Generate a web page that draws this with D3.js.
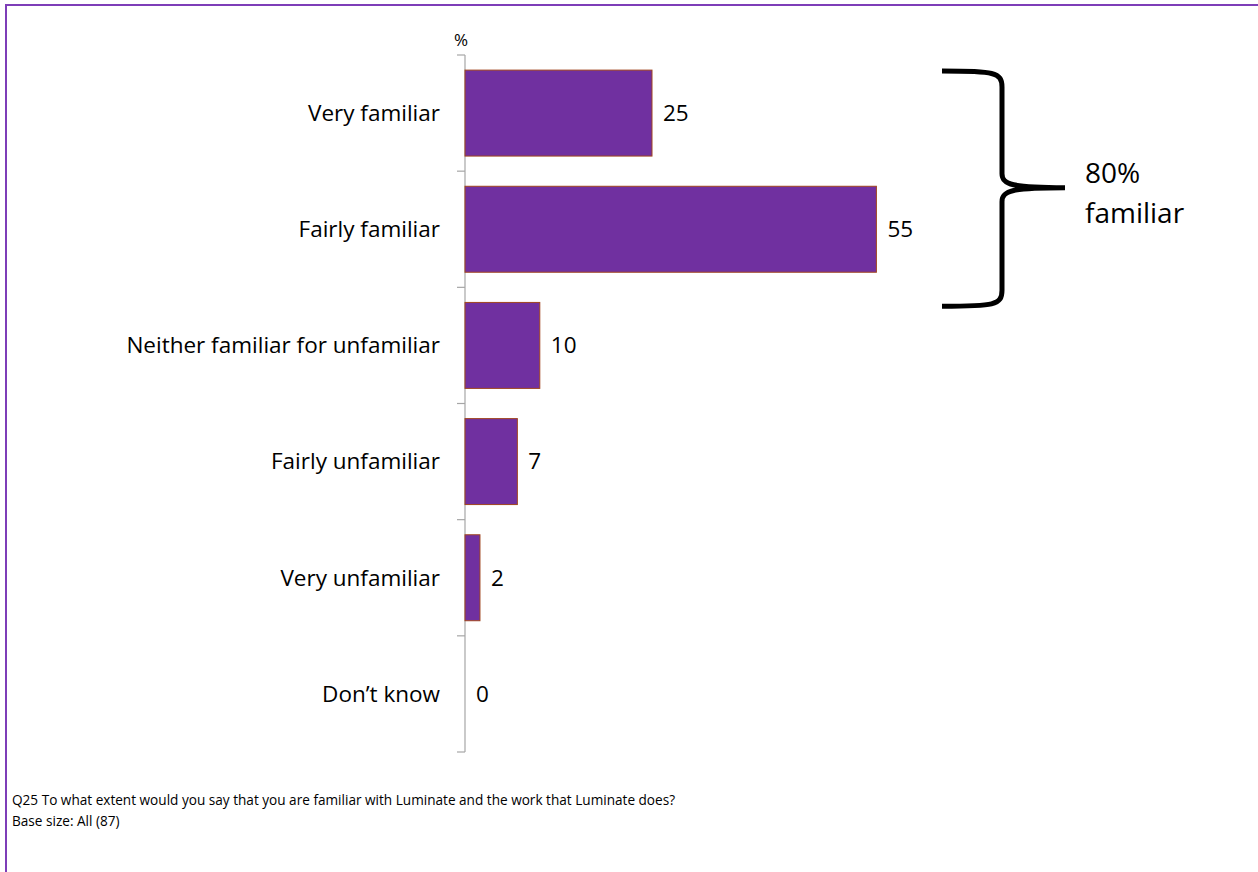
<!DOCTYPE html>
<html>
<head>
<meta charset="utf-8">
<script src="https://cdn.jsdelivr.net/npm/d3@7"></script>
<style>
  html, body { margin: 0; padding: 0; background: #fff; }
  svg { display: block; }
  text { font-family: "Open Sans", "Noto Sans", sans-serif; fill: #000; }
</style>
</head>
<body>
<svg id="chart" width="1258" height="872"></svg>
<script>
// Familiarity with Luminate, % of respondents
const categories = [
  "Very familiar",
  "Fairly familiar",
  "Neither familiar for unfamiliar",
  "Fairly unfamiliar",
  "Very unfamiliar",
  "Don\u2019t know"
];
const values = [25, 55, 10, 7, 2, 0];
const bracedCount = 2;          // first two categories are summed in the brace note
const braceLabel = ["80%", "familiar"];
const footnotes = [
  "Q25 To what extent would you say that you are familiar with Luminate and the work that Luminate does?",
  "Base size: All (87)"
];

const svg = d3.select("#chart");

// outer frame
svg.append("rect")
  .attr("x", 6).attr("y", 5)
  .attr("width", 1300).attr("height", 900)
  .attr("fill", "none")
  .attr("stroke", "#7E3EB8")
  .attr("stroke-width", 2);

const axisX = 465, plotTop = 55, plotBottom = 752;

const x = d3.scaleLinear().domain([0, 100]).range([axisX, axisX + 748]);
const pad = 0.26;
const y = d3.scaleBand().domain(categories).range([plotTop, plotBottom])
  .paddingInner(pad).paddingOuter(pad / 2);

// vertical axis with tick marks at the category boundaries
const g = svg.append("g");
g.append("line")
  .attr("x1", axisX).attr("x2", axisX)
  .attr("y1", plotTop).attr("y2", plotBottom)
  .attr("stroke", "#A6A6A6").attr("stroke-width", 1.2);

const step = y.step();
const bounds = d3.range(categories.length + 1).map(i => plotTop + i * step);
g.selectAll(".tick").data(bounds).join("line")
  .attr("x1", axisX - 8).attr("x2", axisX)
  .attr("y1", d => d).attr("y2", d => d)
  .attr("stroke", "#A6A6A6").attr("stroke-width", 1.2);

// bars
svg.selectAll(".bar").data(values).join("rect")
  .attr("x", x(0))
  .attr("y", (d, i) => y(categories[i]))
  .attr("width", d => x(d) - x(0))
  .attr("height", y.bandwidth())
  .attr("fill", "#7030A0")
  .attr("stroke", d => d > 0 ? "#A0441E" : "none")
  .attr("stroke-width", 1);

// value labels
svg.selectAll(".val").data(values).join("text")
  .attr("x", d => x(d) + 11)
  .attr("y", (d, i) => y(categories[i]) + y.bandwidth() / 2)
  .attr("dy", "0.35em")
  .attr("font-size", 22.5)
  .text(d => d);

// category labels
svg.selectAll(".cat").data(categories).join("text")
  .attr("x", 440)
  .attr("y", d => y(d) + y.bandwidth() / 2)
  .attr("dy", "0.35em")
  .attr("text-anchor", "end")
  .attr("font-size", 22.5)
  .text(d => d);

// axis unit
svg.append("text")
  .attr("x", 461).attr("y", 46)
  .attr("text-anchor", "middle")
  .attr("font-size", 17)
  .text("%");

// brace grouping the "familiar" categories
const bTop = y(categories[0]) + 1;
const bBot = y(categories[bracedCount - 1]) + y.bandwidth() + 34;
const bMid = (bTop + bBot) / 2 - 1;
const xl = 942, xv = 1002, xp = 1065;
const brace = d3.path();
brace.moveTo(xl, bTop);
brace.bezierCurveTo(xv - 8, bTop, xv, bTop + 1, xv, bTop + 16);
brace.lineTo(xv, bMid - 14);
brace.bezierCurveTo(xv, bMid - 3, xv + 10, bMid, xp, bMid);
brace.moveTo(xp, bMid);
brace.bezierCurveTo(xv + 10, bMid, xv, bMid + 3, xv, bMid + 14);
brace.lineTo(xv, bBot - 16);
brace.bezierCurveTo(xv, bBot - 1, xv - 8, bBot, xl, bBot);
svg.append("path")
  .attr("d", brace.toString())
  .attr("fill", "none")
  .attr("stroke", "#000")
  .attr("stroke-width", 5)
  .attr("stroke-linejoin", "round");

svg.selectAll(".brace-label").data(braceLabel).join("text")
  .attr("x", 1085)
  .attr("y", (d, i) => 183 + i * 40)
  .attr("font-size", 28)
  .text(d => d);

// footnotes
svg.selectAll(".note").data(footnotes).join("text")
  .attr("x", 12)
  .attr("y", (d, i) => 805 + i * 21)
  .attr("font-size", 13.6)
  .text(d => d);
</script>
</body>
</html>
